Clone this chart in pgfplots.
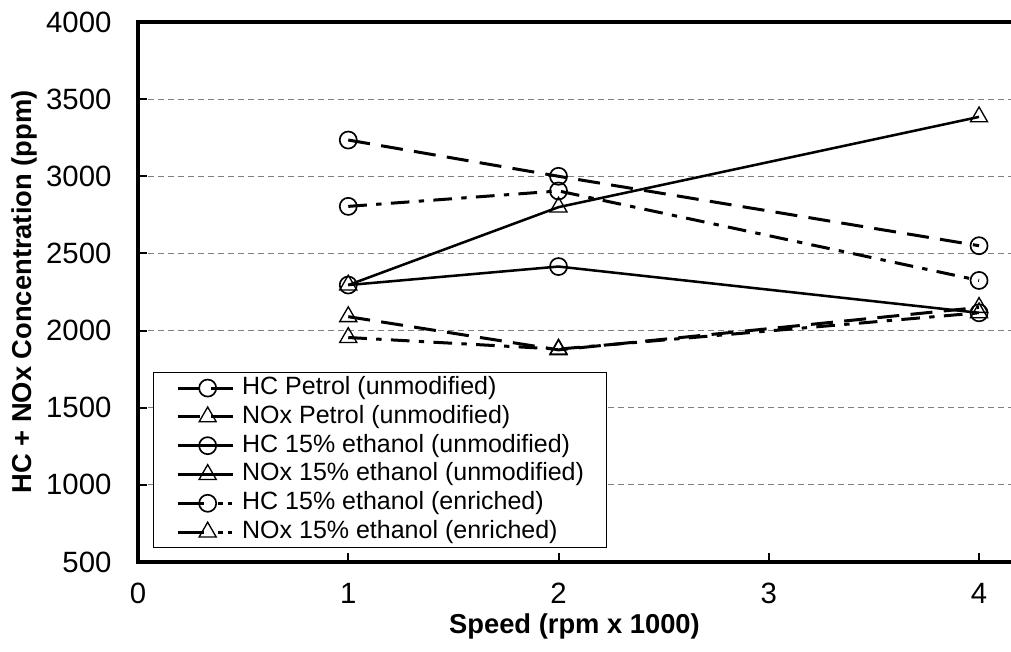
\documentclass[border=0pt]{standalone}
\usepackage{fontspec}
\setmainfont{Liberation Sans}
\usepackage{pgfplots}
\pgfplotsset{compat=1.18}

% line styles of the three fuel settings
\tikzset{
  longdash/.style={dash pattern=on 16.5pt off 8.5pt},
  dashdot/.style={dash pattern=on 14pt off 7pt on 4pt off 7pt},
  circmark/.style={mark=o, mark size=6.4pt, mark options={solid, line width=1.25pt, black}},
  trimark/.style={mark=triangle, mark size=7.4pt, mark options={solid, line width=1pt, black}},
}

\begin{document}
\begin{tikzpicture}
\path[use as bounding box] (-103.5pt,-66.75pt) rectangle (654.75pt,421.5pt);
\begin{axis}[
  at={(0,0)}, anchor=south west,
  scale only axis, width=654.75pt, height=405pt,
  xmin=0, xmax=4.152, ymin=500, ymax=4000,
  xtick={0,1,2,3,4}, ytick={500,1000,...,4000},
  axis x line*=bottom, axis y line*=left,
  axis line style={-, line width=2.5pt, line cap=rect},
  tick align=inside, major tick length=7pt,
  tick style={line width=1.5pt, black},
  ymajorgrids,
  grid style={line width=0.75pt, gray, dash pattern=on 4.5pt off 3pt},
  tick label style={font=\fontsize{22}{25}\selectfont},
  label style={font=\fontsize{20.5}{24}\selectfont\bfseries},
  /pgf/number format/assume math mode=true,
  /pgf/number format/.cd, 1000 sep={}, /pgfplots/.cd,
  yticklabel style={xshift=-16.4pt},
  xticklabel style={yshift=-12.5pt},
  xlabel={Speed (rpm x 1000)},
  ylabel={HC + NOx Concentration (ppm)},
  xlabel style={at={(axis description cs:0.5,-0.12)}, anchor=center},
  ylabel style={at={(axis description cs:-0.13,0.5)}, anchor=center},
  legend cell align=left,
  legend image code/.code={%
    \draw[mark repeat=2, mark phase=2, #1]
      plot coordinates {(0pt,0pt) (22.5pt,0pt) (41.25pt,0pt)};},
  legend style={
    at={(axis description cs:0.0172,0.352)}, anchor=north west,
    draw=black, line width=0.75pt, fill=white,
    inner xsep=17pt, inner ysep=3pt,
    column sep=6pt, row sep=4.1pt,
    nodes={inner sep=0pt, text height=13.5pt, text depth=4pt},
    font=\fontsize{18.75}{21.5}\selectfont,
  },
  every axis plot/.append style={line width=2.25pt, black},
  after end axis/.code={
    \draw[line width=2.5pt, line cap=rect] (rel axis cs:0,1) -- (rel axis cs:1,1);
  },
]
\addplot[longdash, circmark] coordinates {(1,3235) (2,3000) (4,2550)};
\addlegendentry{HC Petrol (unmodified)}
\addplot[longdash, trimark] coordinates {(1,2090) (2,1875) (4,2150)};
\addlegendentry{NOx Petrol (unmodified)}
\addplot[solid, line width=1.9pt, circmark] coordinates {(1,2295) (2,2415) (4,2115)};
\addlegendentry{HC 15\% ethanol (unmodified)}
\addplot[solid, line width=1.9pt, trimark] coordinates {(1,2295) (2,2800) (4,3385)};
\addlegendentry{NOx 15\% ethanol (unmodified)}
\addplot[dashdot, circmark,
  legend image post style={dash pattern=on 20pt off 10pt on 4pt off 4pt on 3pt off 10pt}]
  coordinates {(1,2805) (2,2905) (4,2325)};
\addlegendentry{HC 15\% ethanol (enriched)}
\addplot[dashdot, trimark,
  legend image post style={dash pattern=on 20pt off 10pt on 4pt off 4pt on 3pt off 10pt}]
  coordinates {(1,1955) (2,1880) (4,2115)};
\addlegendentry{NOx 15\% ethanol (enriched)}
\end{axis}
\end{tikzpicture}
\end{document}
